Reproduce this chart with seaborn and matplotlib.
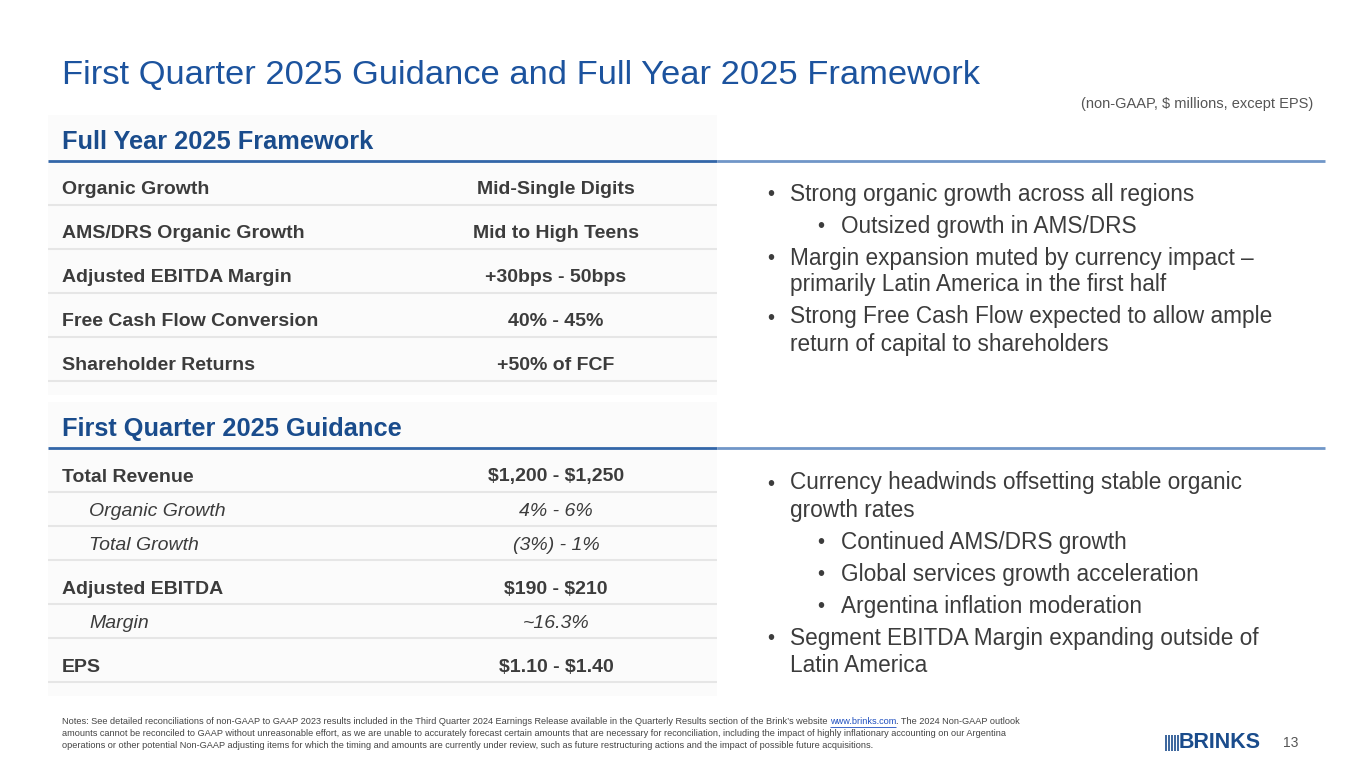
import matplotlib
matplotlib.use("Agg")
import matplotlib.pyplot as plt
import seaborn as sns

# Slide content
title = "First Quarter 2025 Guidance and Full Year 2025 Framework"
units_note = "(non-GAAP, $ millions, except EPS)"

fy_heading = "Full Year 2025 Framework"
fy_labels = ["Organic Growth", "AMS/DRS Organic Growth", "Adjusted EBITDA Margin",
             "Free Cash Flow Conversion", "Shareholder Returns"]
fy_values = ["Mid-Single Digits", "Mid to High Teens", "+30bps - 50bps",
             "40% - 45%", "+50% of FCF"]

q1_heading = "First Quarter 2025 Guidance"
q1_labels = ["Total Revenue", "Organic Growth", "Total Growth",
             "Adjusted EBITDA", "Margin", "EPS"]
q1_values = ["$1,200 - $1,250", "4% - 6%", "(3%) - 1%",
             "$190 - $210", "~16.3%", "$1.10 - $1.40"]
q1_sub = [False, True, True, False, True, False]

fy_bullets = [
    (0, ["Strong organic growth across all regions"]),
    (1, ["Outsized growth in AMS/DRS"]),
    (0, ["Margin expansion muted by currency impact \u2013",
         "primarily Latin America in the first half"]),
    (0, ["Strong Free Cash Flow expected to allow ample",
         "return of capital to shareholders"]),
]
q1_bullets = [
    (0, ["Currency headwinds offsetting stable organic", "growth rates"]),
    (1, ["Continued AMS/DRS growth"]),
    (1, ["Global services growth acceleration"]),
    (1, ["Argentina inflation moderation"]),
    (0, ["Segment EBITDA Margin expanding outside of", "Latin America"]),
]

notes_pre = ("Notes: See detailed reconciliations of non-GAAP to GAAP 2023 results included in the "
             "Third Quarter 2024 Earnings Release available in the Quarterly Results section of the "
             "Brink\u2019s website ")
notes_url = "www.brinks.com"
notes_post = ". The 2024 Non-GAAP outlook"
notes_rest = [
    "amounts cannot be reconciled to GAAP without unreasonable effort, as we are unable to accurately "
    "forecast certain amounts that are necessary for reconciliation, including the impact of highly "
    "inflationary accounting on our Argentina",
    "operations or other potential Non-GAAP adjusting items for which the timing and amounts are "
    "currently under review, such as future restructuring actions and the impact of possible future "
    "acquisitions.",
]
page_number = "13"

sns.set_theme(style="white")
plt.rcParams["font.family"] = ["Liberation Sans", "DejaVu Sans"]
plt.rcParams["text.parse_math"] = False

blue = "#1C539E"
head_blue = "#1A4C8C"
dark = "#3C3C3C"
grey_line = "#E6E6E6"

fig = plt.figure(figsize=(13.65, 7.68), dpi=100)
ax = fig.add_axes([0, 0, 1, 1])
ax.set_xlim(0, 1365)
ax.set_ylim(768, 0)
ax.axis("off")

ax.text(62, 76, title, fontsize=24.8, color=blue, va="center", ha="left")
ax.text(1313, 104, units_note, fontsize=10.5, color="#555555", va="center", ha="right")


def draw_table(top, heading, labels, values, subs, val_x=556):
    n_h = sum(34 if s else 44 for s in subs)
    ax.add_patch(plt.Rectangle((48, top - 46), 669, 46 + n_h + 14,
                               color="#FBFBFB", zorder=0, lw=0))
    ax.text(62, top - 19, heading, fontsize=18.3, fontweight="bold",
            color=head_blue, va="center", ha="left")
    ax.hlines(top, 48, 717, color="#3366A8", lw=2)
    ax.hlines(top, 717, 1325, color="#7096C8", lw=2)
    y = top
    for lab, val, sub in zip(labels, values, subs):
        h = 34 if sub else 44
        y += h
        if sub:
            ax.text(89, y - 15, lab, fontsize=14, style="italic", color=dark, va="center")
            ax.text(val_x, y - 15, val, fontsize=14, style="italic", color=dark,
                    va="center", ha="center")
        else:
            ax.text(62, y - 15, lab, fontsize=14, fontweight="bold", color=dark, va="center")
            ax.text(val_x, y - 15, val, fontsize=14, fontweight="bold", color=dark,
                    va="center", ha="center")
        ax.hlines(y, 48, 717, color=grey_line, lw=1.5)


def draw_bullets(y, items):
    first = True
    for level, lines in items:
        if not first:
            y += 32
        first = False
        bx = 767 if level == 0 else 817
        tx = 790 if level == 0 else 841
        ax.text(bx, y + 1, "\u2022", fontsize=14.5, color=dark, va="center")
        for i, line in enumerate(lines):
            if i:
                y += 27
            ax.text(tx, y, line, fontsize=16.3, color=dark, va="center")


draw_table(161, fy_heading, fy_labels, fy_values, [False] * len(fy_labels))
draw_table(448, q1_heading, q1_labels, q1_values, q1_sub)
draw_bullets(194, fy_bullets)
draw_bullets(483, q1_bullets)

# Footnotes
renderer = fig.canvas.get_renderer()
note_kw = dict(fontsize=6.6, color="#444444", va="center", ha="left")
t_pre = ax.text(62, 722, notes_pre, **note_kw)
x_url = t_pre.get_window_extent(renderer).x1
t_url = ax.text(x_url, 722, notes_url, fontsize=6.6, color="#1F4FBF", va="center", ha="left")
bb = t_url.get_window_extent(renderer)
ax.hlines(727, bb.x0, bb.x1, color="#1F4FBF", lw=0.6)
ax.text(bb.x1, 722, notes_post, **note_kw)
for i, line in enumerate(notes_rest):
    ax.text(62, 734 + 12 * i, line, **note_kw)

# Logo and page number
ax.vlines([1166, 1169, 1172, 1175, 1178], 735, 751, color=head_blue, lw=1.2)
ax.text(1179, 743, "BRINKS", fontsize=15.5, fontweight="heavy", color=head_blue,
        va="center", ha="left")
ax.text(1283, 743, page_number, fontsize=10, color="#555555", va="center", ha="left")

fig.savefig("out.png", dpi=100)
